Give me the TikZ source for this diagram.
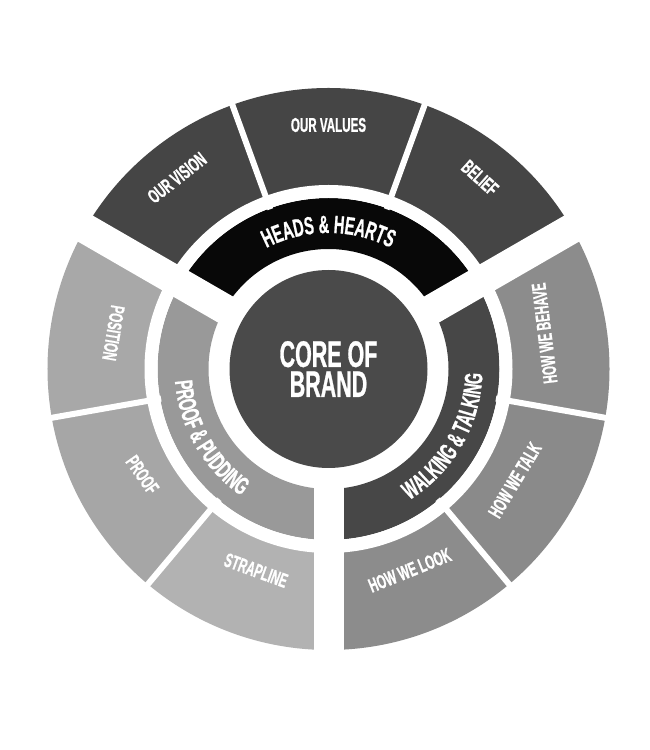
\documentclass[tikz,border=0pt]{standalone}
\usepackage{fontspec}
\newfontfamily\cond{Liberation Sans}[FakeStretch=0.58,FakeBold=0.8]
\usetikzlibrary{decorations.text}
\definecolor{corecol}{gray}{0.29}
\definecolor{topcol}{gray}{0.27}
\definecolor{hhcol}{gray}{0.03}
\definecolor{ppcol}{gray}{0.60}
\definecolor{wtcol}{gray}{0.28}
\definecolor{poscol}{gray}{0.66}
\definecolor{prfcol}{gray}{0.65}
\definecolor{strcol}{gray}{0.70}
\definecolor{lookcol}{gray}{0.55}
\definecolor{talkcol}{gray}{0.54}
\definecolor{behcol}{gray}{0.55}
\newcommand\annsec[5]{\fill[#1] (#2:#4pt) arc[start angle=#2,end angle=#3,radius=#4pt] -- (#3:#5pt) arc[start angle=#3,end angle=#2,radius=#5pt] -- cycle;}
\newcommand\ringfont{\cond\bfseries\fontsize{25}{30}\selectfont}
\begin{document}
\begin{tikzpicture}[x=1pt,y=1pt,
  lbl/.style={text=white, font=\cond\bfseries\fontsize{20}{22}\selectfont, inner sep=0pt},
  corenode/.style={circle, fill=corecol, minimum size=198pt, inner sep=0pt, text=white, align=center, font=\cond\bfseries\fontsize{37}{30}\selectfont},
  gapband/.style={white, line width=30pt},
  thinline/.style={white, line width=6pt},
  ringtext/.style={decorate, decoration={text along path, text align=center, text color=white, text={#1}}}]
\fill[white] (0,0) rectangle (650,750);
\useasboundingbox (0,0) rectangle (650,750);
\begin{scope}[shift={(328.5,381)}]
\coordinate (C) at (0,0);
% outer ring segments
\annsec{topcol}{110}{150}{178}{281}
\annsec{topcol}{70}{110}{178}{281}
\annsec{topcol}{30}{70}{178}{281}
\annsec{poscol}{150}{190}{178}{281}
\annsec{prfcol}{190}{230}{178}{281}
\annsec{strcol}{230}{270}{178}{281}
\annsec{lookcol}{270}{310}{178}{281}
\annsec{talkcol}{310}{350}{178}{281}
\annsec{behcol}{350}{390}{178}{281}
% middle ring
\annsec{hhcol}{30}{150}{120}{171}
\annsec{ppcol}{150}{270}{120}{171}
\annsec{wtcol}{270}{390}{120}{171}
% white separations
\draw[white, line width=13pt] (C) circle[radius=177.5pt];
\foreach \a in {70,110,190,230,310,350} \draw[thinline] (\a:170pt) -- (\a:290pt);
\foreach \a in {30,150,270} \draw[gapband] (C) -- (\a:290pt);
% core
\node[corenode] (core) at (C) {CORE OF\\BRAND};
% ring texts
\path[ringtext={|\ringfont|HEADS {\&} HEARTS}] (150:136pt) arc[start angle=150,end angle=30,radius=136pt];
\path[ringtext={|\ringfont|PROOF {\&} PUDDING}] (150:154pt) arc[start angle=150,end angle=270,radius=154pt];
\path[ringtext={|\ringfont|WALKING {\&} TALKING}] (270:154pt) arc[start angle=270,end angle=390,radius=154pt];
% outer labels
\node[lbl, rotate=38.4] (vision) at (128.4:244pt) {OUR VISION};
\node[lbl] (values) at (90:244pt) {OUR VALUES};
\node[lbl, rotate=-42] (belief) at (51.6:244pt) {BELIEF};
\node[lbl, rotate=-99.5] (position) at (170.5:218pt) {POSITION};
\node[lbl, rotate=-55] (proof) at (209.6:214pt) {PROOF};
\node[lbl, rotate=-20] (strap) at (250.2:214pt) {STRAPLINE};
\node[lbl, rotate=22] (look) at (292:217pt) {HOW WE LOOK};
\node[lbl, rotate=59] (talk) at (329.2:217pt) {HOW WE TALK};
\node[lbl, rotate=97] (behave) at (9.4:219pt) {HOW WE BEHAVE};
\end{scope}
\end{tikzpicture}
\end{document}
